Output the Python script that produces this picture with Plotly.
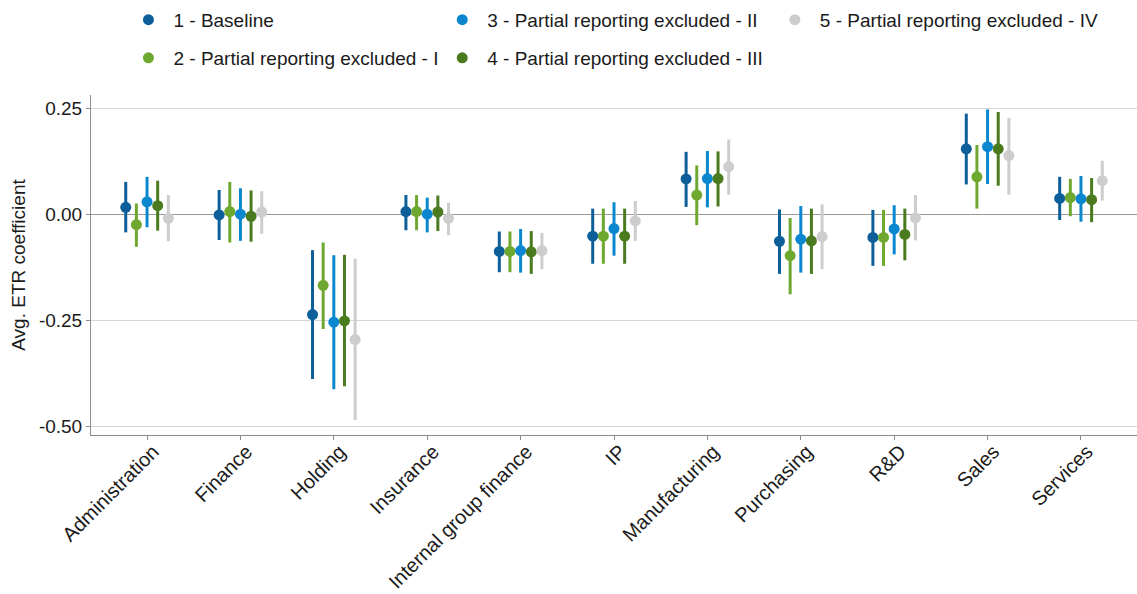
import plotly.graph_objects as go

categories = ["Administration", "Finance", "Holding", "Insurance", "Internal group finance",
              "IP", "Manufacturing", "Purchasing", "R&D", "Sales", "Services"]

series_names = ["1 - Baseline", "2 - Partial reporting excluded - I",
                "3 - Partial reporting excluded - II", "4 - Partial reporting excluded - III",
                "5 - Partial reporting excluded - IV"]

est_1 = [0.016, -0.002, -0.237, 0.006, -0.088, -0.052, 0.083, -0.064, -0.055, 0.154, 0.037]
low_1 = [-0.043, -0.061, -0.389, -0.038, -0.137, -0.117, 0.017, -0.141, -0.122, 0.070, -0.014]
up_1 = [0.076, 0.057, -0.085, 0.045, -0.041, 0.013, 0.147, 0.011, 0.010, 0.237, 0.088]

est_2 = [-0.025, 0.006, -0.168, 0.006, -0.088, -0.052, 0.045, -0.098, -0.055, 0.088, 0.039]
low_2 = [-0.077, -0.067, -0.271, -0.038, -0.137, -0.117, -0.026, -0.189, -0.122, 0.013, -0.005]
up_2 = [0.025, 0.076, -0.067, 0.045, -0.041, 0.013, 0.115, -0.009, 0.010, 0.163, 0.083]

est_3 = [0.029, 0.000, -0.255, 0.000, -0.086, -0.034, 0.084, -0.059, -0.035, 0.159, 0.036]
low_3 = [-0.031, -0.063, -0.413, -0.043, -0.138, -0.098, 0.016, -0.138, -0.095, 0.071, -0.018]
up_3 = [0.088, 0.061, -0.097, 0.039, -0.035, 0.028, 0.149, 0.019, 0.021, 0.247, 0.090]

est_4 = [0.020, -0.005, -0.252, 0.005, -0.089, -0.052, 0.084, -0.063, -0.048, 0.154, 0.034]
low_4 = [-0.039, -0.065, -0.406, -0.040, -0.141, -0.117, 0.018, -0.141, -0.109, 0.067, -0.019]
up_4 = [0.079, 0.056, -0.096, 0.044, -0.040, 0.013, 0.148, 0.013, 0.013, 0.241, 0.085]

est_5 = [-0.010, 0.005, -0.296, -0.010, -0.086, -0.016, 0.112, -0.053, -0.009, 0.138, 0.079]
low_5 = [-0.064, -0.046, -0.486, -0.050, -0.130, -0.063, 0.046, -0.130, -0.062, 0.046, 0.032]
up_5 = [0.045, 0.054, -0.105, 0.027, -0.044, 0.031, 0.176, 0.023, 0.045, 0.227, 0.126]

y_ticks = [-0.50, -0.25, 0.00, 0.25]
y_tick_labels = ["-0.50", "-0.25", "0.00", "0.25"]

colors = ["#0d5f99", "#6ea82f", "#0a87cf", "#4a7b1f", "#cdcdcd"]
estimates = [est_1, est_2, est_3, est_4, est_5]
lows = [low_1, low_2, low_3, low_4, low_5]
ups = [up_1, up_2, up_3, up_4, up_5]

FONT = "Liberation Sans, Arial, sans-serif"
TXT = "#1a1a1a"
dodge = 0.114

# legend placement (paper coords): (x, y) per series
legend_pos = [(0.031, 1.221), (0.031, 1.109), (0.331, 1.221), (0.331, 1.109), (0.649, 1.221)]

fig = go.Figure()
for k in range(5):
    off = (k - 2) * dodge
    xs = [i + off for i in range(len(categories))]
    lg = "legend" if k == 0 else f"legend{k+1}"
    fig.add_trace(go.Scatter(
        x=xs, y=estimates[k], mode="markers", name=series_names[k],
        marker=dict(color=colors[k], size=11),
        error_y=dict(type="data", symmetric=False,
                     array=[u - e for u, e in zip(ups[k], estimates[k])],
                     arrayminus=[e - l for e, l in zip(estimates[k], lows[k])],
                     color=colors[k], thickness=3, width=0),
        legend=lg,
    ))

layout_legends = {}
for k in range(5):
    key = "legend" if k == 0 else f"legend{k+1}"
    layout_legends[key] = dict(
        x=legend_pos[k][0], y=legend_pos[k][1], xanchor="left", yanchor="middle",
        orientation="h", font=dict(family=FONT, size=19, color=TXT),
        itemwidth=40, bgcolor="rgba(0,0,0,0)",
    )

fig.update_layout(
    width=1137, height=594,
    margin=dict(l=91, r=0, t=95, b=159, autoexpand=False),
    plot_bgcolor="white", paper_bgcolor="white",
    showlegend=True,
    font=dict(family=FONT, size=19, color=TXT),
    **layout_legends,
)

fig.update_xaxes(
    range=[-0.6, 10.6], tickmode="array", tickvals=list(range(len(categories))),
    ticktext=categories, tickangle=-45, showgrid=False, zeroline=False,
    showline=True, linecolor="#8c8c8c", linewidth=1,
    ticks="outside", ticklen=4, tickcolor="#8c8c8c",
    ticklabelstandoff=-8, ticklabelshift=6,
    tickfont=dict(family=FONT, size=20, color=TXT), automargin=False,
)
fig.update_yaxes(
    range=[-0.521, 0.281], tickmode="array", tickvals=y_ticks, ticktext=y_tick_labels,
    showgrid=True, gridcolor="#d6d6d6", gridwidth=1,
    zeroline=True, zerolinecolor="#9a9a9a", zerolinewidth=1,
    showline=True, linecolor="#8c8c8c", linewidth=1,
    ticks="outside", ticklen=4, tickcolor="#8c8c8c",
    tickfont=dict(family=FONT, size=19, color=TXT), automargin=False,
    title=dict(text="Avg. ETR coefficient", font=dict(family=FONT, size=19, color=TXT), standoff=8),
)

fig.write_html("out.html", post_script="document.body.style.margin='0px';",
               config={"displayModeBar": False})
